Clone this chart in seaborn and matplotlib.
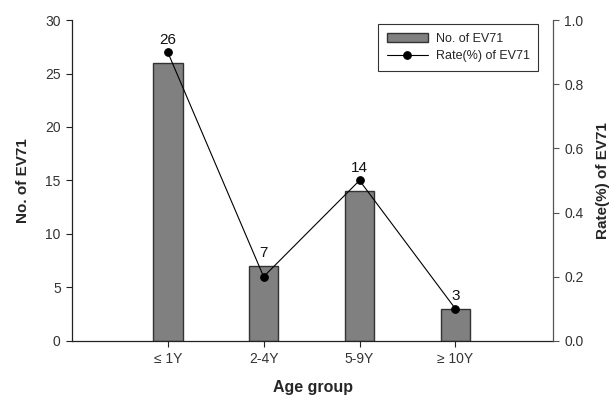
import numpy as np
import pandas as pd
import matplotlib
matplotlib.use("Agg")
import matplotlib.pyplot as plt
import seaborn as sns

# datos del grafico
groups = ["≤ 1Y", "2-4Y", "5-9Y", "≥ 10Y"]
counts = [26, 7, 14, 3]
rates = [0.9, 0.2, 0.5, 0.1]

sns.set_style("ticks")
plt.rcParams["font.family"] = ["Liberation Sans", "DejaVu Sans"]

df = pd.DataFrame({"group": groups, "count": counts, "rate": rates})
df["pos"] = np.arange(len(df))

fig = plt.figure(figsize=(6.14, 4.01), dpi=100)
ax = fig.add_axes([0.117, 0.150, 0.784, 0.800])

sns.barplot(data=df, x="group", y="count", color="#808080", saturation=1,
            width=0.31, edgecolor="#333333", linewidth=1.0, ax=ax,
            label="No. of EV71")
ax.set_xlim(-1, 4.02)
ax.set_ylim(0, 30)
ax.set_yticks(range(0, 31, 5))
ax.set_xlabel("Age group", fontsize=11.5, fontweight="bold", labelpad=10)
ax.set_ylabel("No. of EV71", fontsize=11, fontweight="bold", labelpad=11)
ax.tick_params(axis="both", labelsize=10, colors="#222222", length=4, width=0.8,
               direction="out", pad=4)
ax.tick_params(axis="both", labelcolor="#333333")
ax.spines["top"].set_visible(False)
ax.spines["right"].set_visible(False)
for s in ["left", "bottom"]:
    ax.spines[s].set_color("#222222")
    ax.spines[s].set_linewidth(0.9)

ax2 = ax.twinx()
sns.lineplot(data=df, x="pos", y="rate", color="black", marker="o",
             markersize=5.5, linewidth=0.8, markeredgecolor="black",
             ax=ax2, label="Rate(%) of EV71", legend=False)
ax2.set_ylim(0, 1.0)
ax2.set_yticks(np.arange(0, 1.01, 0.2))
ax2.set_yticklabels([f"{v:.1f}" for v in np.arange(0, 1.01, 0.2)])
ax2.set_ylabel("Rate(%) of EV71", fontsize=11, fontweight="bold", labelpad=9)
ax2.tick_params(axis="y", labelsize=10, colors="#555555", labelcolor="#333333",
                length=4, width=0.8, pad=4)
ax2.spines["top"].set_visible(False)
ax2.spines["left"].set_visible(False)
ax2.spines["bottom"].set_visible(False)
ax2.spines["right"].set_color("#555555")
ax2.spines["right"].set_linewidth(0.9)

# etiquetas encima de las barras (o del punto si esta mas alto)
for i, (c, r) in enumerate(zip(counts, rates)):
    top = max(c, r * 30)
    ax.annotate(str(c), (i, top), xytext=(0, 9), textcoords="offset points",
                ha="center", va="center", fontsize=11, color="#111111")

h1, l1 = ax.get_legend_handles_labels()
h2, l2 = ax2.get_legend_handles_labels()
leg = ax2.legend(h1 + h2, l1 + l2, loc="upper right",
                 bbox_to_anchor=(0.969, 0.988), fontsize=9, frameon=True,
                 fancybox=False, edgecolor="black", handlelength=3.3,
                 borderpad=0.7, labelspacing=0.45, handleheight=0.7,
                 handletextpad=0.6, borderaxespad=0)
leg.get_frame().set_linewidth(0.8)
if ax.get_legend() is not None:
    ax.get_legend().remove()

fig.savefig("out.png", dpi=100)
